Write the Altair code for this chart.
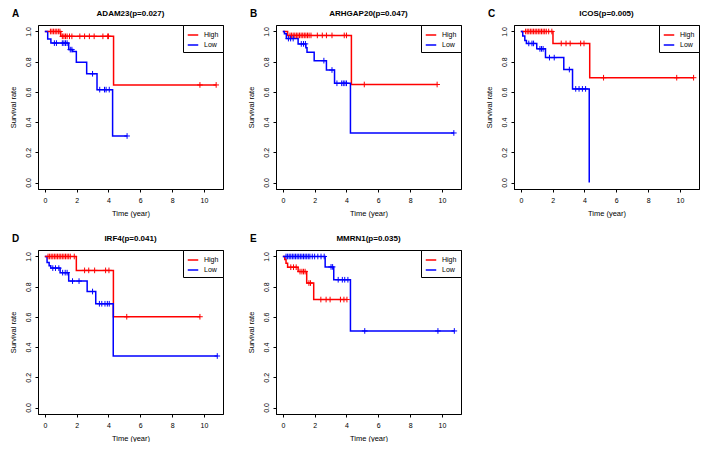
import altair as alt
import pandas as pd

LETTERS = ["A", "B", "C", "D", "E"]
GENES = ["ADAM23", "ARHGAP20", "ICOS", "IRF4", "MMRN1"]
PVALUES = ["0.027", "0.047", "0.005", "0.041", "0.035"]
GROUPS = ["High", "Low"]
GROUP_COLORS = ["#FF0000", "#0000FF"]
X_TICKS = [0, 2, 4, 6, 8, 10]
Y_TICKS = [0.0, 0.2, 0.4, 0.6, 0.8, 1.0]

# ---- ADAM23 ----
ADAM23_HIGH_EVENT_T = [1.0, 4.32]
ADAM23_HIGH_EVENT_S = [0.968, 0.646]
ADAM23_HIGH_CENSOR_T = [0.35, 0.45, 0.55, 0.65, 0.75, 0.85, 0.95, 1.1, 1.2, 1.3, 1.4,
                        1.55, 1.7, 2.2, 2.5, 2.8, 3.1, 3.65, 3.95, 4.0, 9.75, 10.77]
ADAM23_LOW_EVENT_T = [0.18, 0.38, 1.5, 1.75, 1.98, 2.63, 3.28, 4.26]
ADAM23_LOW_EVENT_S = [0.95, 0.923, 0.88, 0.867, 0.797, 0.72, 0.615, 0.308]
ADAM23_LOW_CENSOR_T = [0.6, 0.73, 1.1, 1.2, 1.3, 1.4, 1.6, 1.7, 3.0, 3.45, 3.75, 3.85,
                       4.05, 5.17]

# ---- ARHGAP20 ----
ARHGAP20_HIGH_EVENT_T = [0.3, 4.31]
ARHGAP20_HIGH_EVENT_S = [0.974, 0.649]
ARHGAP20_HIGH_CENSOR_T = [0.45, 0.55, 0.65, 0.75, 0.85, 0.95, 1.05, 1.15, 1.25, 1.35,
                          1.45, 1.55, 1.65, 1.77, 2.17, 2.48, 2.74, 3.09, 3.86, 4.0,
                          5.12, 9.7]
ARHGAP20_LOW_EVENT_T = [0.1, 0.22, 0.96, 1.45, 1.52, 1.97, 2.74, 3.25, 4.25]
ARHGAP20_LOW_EVENT_S = [0.985, 0.953, 0.918, 0.893, 0.863, 0.807, 0.745, 0.657, 0.328]
ARHGAP20_LOW_CENSOR_T = [0.35, 0.49, 0.65, 1.16, 1.3, 1.42, 2.58, 3.09, 3.4, 3.7, 3.8,
                         3.9, 4.0, 10.75]

# ---- ICOS ----
ICOS_HIGH_EVENT_T = [2.02, 4.33]
ICOS_HIGH_EVENT_S = [0.921, 0.694]
ICOS_HIGH_CENSOR_T = [0.3, 0.4, 0.5, 0.6, 0.7, 0.8, 0.9, 1.0, 1.1, 1.2, 1.3, 1.4, 1.5,
                      1.6, 1.75, 1.95, 2.54, 2.84, 3.1, 3.76, 3.97, 5.2, 9.8, 10.86]
ICOS_LOW_EVENT_T = [0.12, 0.25, 0.35, 1.0, 1.55, 2.7, 3.25, 4.3]
ICOS_LOW_EVENT_S = [0.97, 0.94, 0.921, 0.885, 0.827, 0.748, 0.62, 0.0]
ICOS_LOW_CENSOR_T = [0.5, 0.7, 0.8, 1.2, 1.3, 1.4, 1.8, 2.1, 3.05, 3.45, 3.66, 3.87,
                     4.07]

# ---- IRF4 ----
IRF4_HIGH_EVENT_T = [1.98, 4.31]
IRF4_HIGH_EVENT_S = [0.908, 0.601]
IRF4_HIGH_CENSOR_T = [0.2, 0.3, 0.4, 0.5, 0.6, 0.7, 0.8, 0.9, 1.0, 1.1, 1.2, 1.3, 1.4,
                      1.5, 1.6, 1.85, 2.5, 2.76, 3.13, 3.82, 4.03, 5.15, 9.75]
IRF4_LOW_EVENT_T = [0.14, 0.27, 0.37, 0.96, 1.5, 2.66, 3.2, 4.3]
IRF4_LOW_EVENT_S = [0.96, 0.938, 0.923, 0.893, 0.837, 0.768, 0.687, 0.341]
IRF4_LOW_CENSOR_T = [0.5, 0.67, 0.88, 1.12, 1.28, 1.4, 1.74, 2.15, 3.0, 3.43, 3.58,
                     3.78, 3.93, 4.05, 10.84]

# ---- MMRN1 ----
MMRN1_HIGH_EVENT_T = [0.12, 0.2, 0.3, 0.96, 1.5, 1.94]
MMRN1_HIGH_EVENT_S = [0.98, 0.955, 0.929, 0.9, 0.824, 0.715]
MMRN1_HIGH_CENSOR_T = [0.5, 0.67, 0.84, 1.08, 1.2, 1.3, 1.4, 1.64, 1.74, 2.39, 2.72,
                       2.97, 3.62, 3.84, 4.03]
MMRN1_LOW_EVENT_T = [2.66, 3.2, 4.25]
MMRN1_LOW_EVENT_S = [0.931, 0.846, 0.507]
MMRN1_LOW_CENSOR_T = [0.2, 0.3, 0.4, 0.5, 0.6, 0.7, 0.8, 0.9, 1.0, 1.1, 1.2, 1.3, 1.4,
                      1.5, 1.6, 1.7, 1.85, 2.0, 2.2, 2.4, 2.6, 3.03, 3.13, 3.48, 3.74,
                      3.89, 4.09, 5.15, 9.75, 10.78]

PANELS = [
    (ADAM23_HIGH_EVENT_T, ADAM23_HIGH_EVENT_S, ADAM23_HIGH_CENSOR_T,
     ADAM23_LOW_EVENT_T, ADAM23_LOW_EVENT_S, ADAM23_LOW_CENSOR_T),
    (ARHGAP20_HIGH_EVENT_T, ARHGAP20_HIGH_EVENT_S, ARHGAP20_HIGH_CENSOR_T,
     ARHGAP20_LOW_EVENT_T, ARHGAP20_LOW_EVENT_S, ARHGAP20_LOW_CENSOR_T),
    (ICOS_HIGH_EVENT_T, ICOS_HIGH_EVENT_S, ICOS_HIGH_CENSOR_T,
     ICOS_LOW_EVENT_T, ICOS_LOW_EVENT_S, ICOS_LOW_CENSOR_T),
    (IRF4_HIGH_EVENT_T, IRF4_HIGH_EVENT_S, IRF4_HIGH_CENSOR_T,
     IRF4_LOW_EVENT_T, IRF4_LOW_EVENT_S, IRF4_LOW_CENSOR_T),
    (MMRN1_HIGH_EVENT_T, MMRN1_HIGH_EVENT_S, MMRN1_HIGH_CENSOR_T,
     MMRN1_LOW_EVENT_T, MMRN1_LOW_EVENT_S, MMRN1_LOW_CENSOR_T),
]

W, H = 185, 164
FONT = "Liberation Sans"
PLUS = "M0,-1V1M-1,0H1"


def surv_at(t, ev_t, ev_s):
    s = 1.0
    for et, es in zip(ev_t, ev_s):
        if et <= t:
            s = es
    return s


def curve_frames(group, ev_t, ev_s, cen_t):
    t_end = max(list(ev_t) + list(cen_t))
    ts = [0.0] + list(ev_t) + [t_end]
    ss = [1.0] + list(ev_s) + [ev_s[-1]]
    line = pd.DataFrame({"t": ts, "s": ss, "group": group, "order": range(len(ts))})
    cens = pd.DataFrame({"t": cen_t, "s": [surv_at(c, ev_t, ev_s) for c in cen_t],
                         "group": group})
    return line, cens


def panel(i):
    hi_t, hi_s, hi_c, lo_t, lo_s, lo_c = PANELS[i]
    l1, c1 = curve_frames("High", hi_t, hi_s, hi_c)
    l2, c2 = curve_frames("Low", lo_t, lo_s, lo_c)
    lines = pd.concat([l1, l2], ignore_index=True)
    cens = pd.concat([c1, c2], ignore_index=True)

    xs = alt.Scale(domain=[-0.43, 11.2], nice=False, zero=False)
    ys = alt.Scale(domain=[-0.043, 1.043], nice=False, zero=False)
    legend = alt.Legend(title=None, orient="top-right", offset=0, strokeColor="black",
                        fillColor="white", padding=4, symbolType="stroke",
                        symbolSize=110, symbolStrokeWidth=1.5, labelFontSize=7,
                        labelFont=FONT, labelColor="black", rowPadding=1,
                        labelOffset=5, cornerRadius=0)
    color = alt.Color("group:N", scale=alt.Scale(domain=GROUPS, range=GROUP_COLORS),
                      legend=legend)
    xaxis = alt.Axis(values=X_TICKS, title="Time (year)", tickSize=3,
                     labelPadding=4, titlePadding=6, labelFlush=False,
                     labelOverlap=False, labelFontSize=7, titleFontSize=7.5)
    yaxis = alt.Axis(values=Y_TICKS, format=".1f", title="Survival rate",
                     labelAngle=270, labelAlign="center",
                     labelBaseline="bottom", tickSize=3, labelPadding=4,
                     labelOverlap=False, labelFlush=False, titlePadding=7,
                     labelFontSize=7, titleFontSize=7.5)
    xenc = alt.X("t:Q", scale=xs, axis=xaxis)
    yenc = alt.Y("s:Q", scale=ys, axis=yaxis)

    line_layer = alt.Chart(lines).mark_line(interpolate="step-after", strokeWidth=1.5,
                                            clip=True).encode(
        x=xenc, y=yenc, color=color, order="order:Q")
    cens_layer = alt.Chart(cens).mark_point(shape=PLUS, size=32, strokeWidth=1,
                                            filled=False, opacity=1).encode(
        x=xenc, y=yenc, color=color)
    labels = pd.DataFrame({"letter": [LETTERS[i]],
                           "title": [f"{GENES[i]}(p={PVALUES[i]})"]})
    letter = alt.Chart(labels).mark_text(
        align="left", baseline="alphabetic", fontSize=10, fontWeight="bold",
        font=FONT, color="black").encode(
        text="letter:N", x=alt.value(-26), y=alt.value(-8))
    title = alt.Chart(labels).mark_text(
        align="center", baseline="alphabetic", fontSize=8, fontWeight="bold",
        font=FONT, color="black").encode(
        text="title:N", x=alt.value(W / 2), y=alt.value(-9))

    return alt.layer(line_layer, cens_layer, letter, title).properties(
        width=W, height=H)


row1 = alt.hconcat(panel(0), panel(1), panel(2), spacing=22).resolve_scale(
    color="independent").resolve_legend(color="independent")
row2 = alt.hconcat(panel(3), panel(4), spacing=22).resolve_scale(
    color="independent").resolve_legend(color="independent")

chart = alt.vconcat(row1, row2, spacing=16).resolve_scale(
    color="independent").resolve_legend(color="independent").properties(
    padding=0, background="white").configure_view(
    stroke="black", strokeWidth=1).configure_axis(
    grid=False, domainColor="black", tickColor="black", labelColor="black",
    titleColor="black", labelFont=FONT, titleFont=FONT, titleFontWeight="normal",
    domainWidth=1, tickWidth=1, labelOverlap=False)

chart.save("out.html", embed_options={"renderer": "svg", "actions": False})
